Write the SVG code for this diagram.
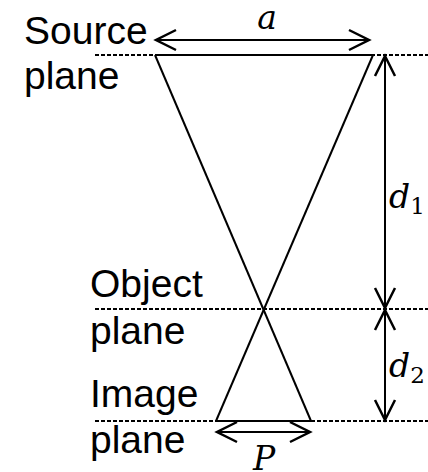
<svg xmlns="http://www.w3.org/2000/svg" width="428" height="472" viewBox="0 0 428 472">
<defs>
<marker id="chev" markerUnits="userSpaceOnUse" markerWidth="30" markerHeight="30" viewBox="-20 -12 24 24" refX="0" refY="0" orient="auto-start-reverse">
<path d="M -16 -8 L 0 0 L -16 8" fill="none" stroke="#000" stroke-width="2"/>
</marker>
</defs>
<style>
.lbl{font-family:"Liberation Sans",Arial,sans-serif;font-size:39px;fill:#000}
.math{font-family:"DejaVu Serif",serif;font-style:italic;font-size:33px;fill:#000}
.sub{font-family:"DejaVu Serif",serif;font-style:normal;font-size:23px;fill:#000}
.dash{stroke:#000;stroke-width:2;stroke-dasharray:4 2;fill:none}
.ray{stroke:#000;stroke-width:2;fill:none}
.dim{stroke:#000;stroke-width:2;fill:none;marker-start:url(#chev);marker-end:url(#chev)}
</style>
<g id="planes">
<line class="dash" x1="95" y1="55" x2="428" y2="55"/>
<line class="dash" x1="95" y1="309" x2="428" y2="309"/>
<line class="dash" x1="95" y1="421" x2="428" y2="421"/>
</g>
<g id="beam">
<line class="ray" x1="155" y1="55" x2="373" y2="55"/>
<line class="ray" x1="216" y1="421" x2="311" y2="421"/>
<line class="ray" x1="155" y1="55" x2="311" y2="421"/>
<line class="ray" x1="373" y1="55" x2="216" y2="421"/>
</g>
<g id="source-label"><text class="lbl" x="24" y="44">Source</text><text class="lbl" x="24" y="89">plane</text></g>
<g id="object-label"><text class="lbl" x="90" y="297">Object</text><text class="lbl" x="90" y="344">plane</text></g>
<g id="image-label"><text class="lbl" x="90" y="407">Image</text><text class="lbl" x="90" y="453">plane</text></g>
<g id="connectors">
<line class="dim" x1="156" y1="40" x2="369" y2="40"/>
<line class="dim" x1="385" y1="56" x2="385" y2="308"/>
<line class="dim" x1="385" y1="310" x2="385" y2="420"/>
<line class="dim" x1="217" y1="432" x2="310" y2="432"/>
</g>
<g id="dim-labels">
<text class="math" x="267" y="29" text-anchor="middle">a</text>
<text class="math" x="389" y="208">d<tspan class="sub" dy="6">1</tspan></text>
<text class="math" x="389" y="377">d<tspan class="sub" dy="6">2</tspan></text>
<text class="math" x="264" y="470" text-anchor="middle">P</text>
</g>
</svg>
